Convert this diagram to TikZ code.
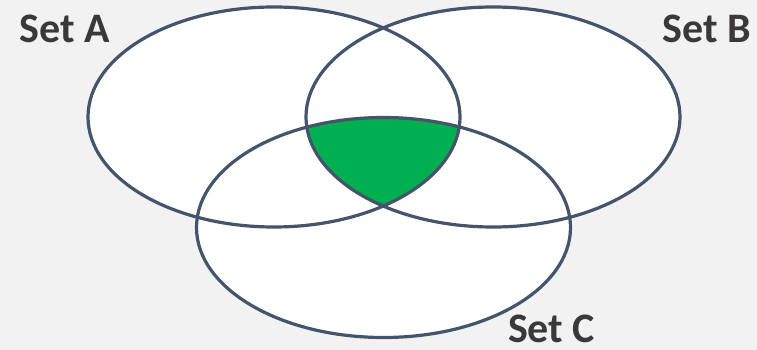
\documentclass[tikz,border=0pt]{standalone}
\usepackage{fontspec}
\setmainfont{Carlito}
\definecolor{setline}{HTML}{44546A}
\definecolor{setgreen}{HTML}{00B050}
\definecolor{setbg}{HTML}{F2F2F2}
\definecolor{settext}{HTML}{3A3838}
\begin{document}
\begin{tikzpicture}[x = 1pt, y = -1pt,
	setring/.style = {draw = setline, line width = 3.2pt},
	setlabel/.style = {font = \fontsize{42}{50}\selectfont\bfseries, text = settext, inner sep = 0pt}]
		\fill [setbg] (0,0) rectangle (757,350);
		\useasboundingbox (0,0) rectangle (757,350);
		\fill [white] (274,117) ellipse (186 and 110);
		\fill [white] (493,117) ellipse (187 and 110);
		\fill [white] (383.5,227.5) ellipse (187 and 110);
		% the part in all three sets
		\begin{scope}
			\clip (274,117) ellipse (186 and 110);
			\clip (493,117) ellipse (187 and 110);
			\fill [setgreen] (383.5,227.5) ellipse (187 and 110);
		\end{scope}
		\draw [setring] (274,117) ellipse (186 and 110);
		\draw [setring] (493,117) ellipse (187 and 110);
		\draw [setring] (383.5,227.5) ellipse (187 and 110);
		\node [setlabel] (labelA) at (64.5,29) {Set A};
		\node [setlabel] (labelB) at (706.5,29) {Set B};
		\node [setlabel] (labelC) at (551.5,329) {Set C};
	\end{tikzpicture}
\end{document}
